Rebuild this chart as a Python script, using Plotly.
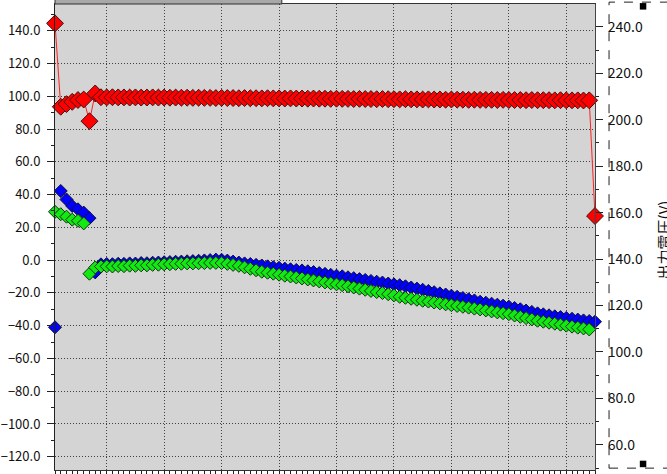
import plotly.graph_objects as go

# sample index along the x axis
x_idx = list(range(1, 96))

red_vals = [
    144.5, 93.6, 95.2, 96.6, 97.7, 98.0, 84.8, 101.7,
    99.4, 99.3, 99.4, 99.3, 99.3, 99.2, 99.3, 99.2, 99.2, 99.3, 99.2, 99.2,
    99.1, 99.2, 99.1, 99.1, 99.0, 99.1, 99.0, 99.0, 98.9, 99.0,
    98.9, 98.9, 98.8, 98.9, 98.8, 98.8, 98.7, 98.8, 98.7, 98.7,
    98.6, 98.7, 98.6, 98.6, 98.5, 98.6, 98.5, 98.5, 98.4, 98.5,
    98.4, 98.4, 98.3, 98.4, 98.3, 98.3, 98.2, 98.3, 98.2, 98.2,
    98.1, 98.2, 98.1, 98.1, 98.0, 98.1, 98.0, 98.0, 97.9, 98.0,
    97.9, 97.9, 97.8, 97.9, 97.8, 97.8, 97.8, 97.7, 97.8, 97.7,
    97.7, 97.7, 97.6, 97.7, 97.6, 97.6, 97.6, 97.5, 97.6, 97.5,
    97.5, 97.5, 97.4, 97.5, 26.9,
]

blue_vals = [
    -41.0, 42.2, 37.0, 33.0, 31.0, 29.0, 25.6, -7.5,
    -2.6, -2.4, -2.5, -2.2, -2.3, -2.0, -2.1, -1.8, -1.9, -1.6, -1.5, -1.3,
    -1.2, -1.0, -0.9, -0.7, -0.6, -0.4, -0.2, 0.0, 0.3, 0.2,
    -0.3, -0.9, -1.5, -2.0, -2.4, -2.9, -3.3, -3.8, -4.3, -4.7,
    -5.2, -5.6, -6.0, -6.3, -6.8, -7.3, -7.9, -8.4, -9.0, -9.5,
    -9.9, -10.5, -11.0, -11.6, -12.1, -12.7, -13.2, -13.7, -14.3, -14.8,
    -15.3, -16.0, -16.7, -17.4, -18.1, -18.8, -19.6, -20.3, -21.0, -21.7,
    -22.4, -23.1, -23.9, -24.6, -25.4, -26.0, -26.6, -27.2, -27.8, -28.4,
    -29.2, -30.0, -30.8, -31.6, -32.5, -33.1, -33.7, -34.3, -34.8, -35.3,
    -35.8, -36.3, -36.8, -37.2, -37.6,
]

green_vals = [
    29.5, 28.0, 26.5, 24.7, 24.0, 22.4, -8.3, -4.5,
    -3.9, -3.8, -3.9, -3.6, -3.7, -3.4, -3.5, -3.2, -3.2, -2.9, -2.8, -2.6,
    -2.5, -2.3, -2.2, -2.0, -2.0, -1.9, -1.8, -1.7, -1.7, -1.8,
    -2.3, -2.9, -3.5, -4.4, -5.3, -6.2, -7.1, -7.7, -8.3, -8.9,
    -9.5, -10.0, -10.6, -11.2, -11.8, -12.4, -13.0, -13.6, -14.2, -14.8,
    -15.3, -16.0, -16.7, -17.4, -18.1, -18.8, -19.5, -20.1, -20.8, -21.5,
    -22.4, -23.0, -23.6, -24.2, -24.8, -25.3, -25.9, -26.4, -27.0, -27.5,
    -28.0, -28.5, -29.0, -29.6, -30.1, -30.7, -31.3, -31.9, -32.4, -33.0,
    -33.8, -34.6, -35.4, -36.2, -37.0, -37.6, -38.2, -38.8, -39.4, -40.0,
    -40.6, -41.2, -41.7, -42.3,
]

right_title = "出力電圧(V)"

FONT = "Noto Sans CJK JP"
GRID = "#404040"
DOTS = "1px,2px"

fig = go.Figure()

fig.add_trace(go.Scatter(
    x=x_idx, y=blue_vals, mode="markers", cliponaxis=False,
    marker=dict(symbol="diamond", size=10, color="#0000ff",
                line=dict(color="#101030", width=1)),
))
fig.add_trace(go.Scatter(
    x=x_idx[:len(green_vals)], y=green_vals, mode="markers", cliponaxis=False,
    marker=dict(symbol="diamond", size=10, color="#12e812",
                line=dict(color="#103010", width=1)),
))
fig.add_trace(go.Scatter(
    x=x_idx, y=red_vals, mode="lines+markers", cliponaxis=False,
    line=dict(color="#ff2020", width=1),
    marker=dict(symbol="diamond", size=13, color="#ff0000",
                line=dict(color="#401010", width=1)),
))
# empty trace so the right axis is drawn
fig.add_trace(go.Scatter(x=[], y=[], yaxis="y2", hoverinfo="skip"))

# dashed box around the right axis labels, with selection handles
fig.add_shape(type="rect", xref="paper", yref="paper",
              x0=1.026, x1=1.25, y0=0.004, y1=1.004,
              line=dict(color="#202020", width=1, dash="dash"))
for yy in (0.995, 0.013):
    fig.add_shape(type="rect", xref="paper", yref="paper",
                  x0=1.083, x1=1.095, y0=yy - 0.007, y1=yy + 0.007,
                  fillcolor="black", line=dict(width=0))
# grey title strip cut off at the top
fig.add_shape(type="rect", xref="paper", yref="paper",
              x0=0.0, x1=0.42, y0=1.0, y1=1.03,
              fillcolor="#a8a8a8", line=dict(color="#303030", width=1))

fig.add_annotation(text=right_title, textangle=-90, showarrow=False,
                   xref="paper", yref="paper", x=1.127, y=0.494,
                   xanchor="center", yanchor="middle",
                   font=dict(family=FONT, size=15, color="#111"))

fig.update_layout(
    width=667, height=474,
    margin=dict(l=55, r=72, t=4, b=4, autoexpand=False),
    paper_bgcolor="white",
    plot_bgcolor="#d4d4d4",
    showlegend=False,
    font=dict(family=FONT, size=13, color="#111"),
    xaxis=dict(
        range=[1, 95], tick0=0, dtick=10, automargin=False,
        showticklabels=False, ticks="outside", ticklen=5, tickcolor="#222",
        showline=True, linecolor="#333", linewidth=1, mirror=True,
        showgrid=True, gridcolor=GRID, griddash=DOTS, gridwidth=1,
        zeroline=False,
        minor=dict(dtick=1, ticks="outside", ticklen=3, tickcolor="#222", showgrid=False),
    ),
    yaxis=dict(
        range=[-128.1, 156.3], tick0=0, dtick=20, tickformat=".1f", automargin=False,
        ticks="outside", ticklen=7, tickcolor="#222", ticklabelstandoff=4,
        showline=True, linecolor="#222", linewidth=1,
        showgrid=True, gridcolor=GRID, griddash=DOTS, gridwidth=1,
        zeroline=False,
        minor=dict(dtick=10, ticks="outside", ticklen=3, tickcolor="#222", showgrid=False),
    ),
    yaxis2=dict(
        overlaying="y", side="right", automargin=False,
        range=[49.2, 249.8], tick0=0, dtick=20, tickformat=".1f",
        ticks="outside", ticklen=7, tickcolor="#222", ticklabelstandoff=2,
        showline=True, linecolor="#444", linewidth=1,
        showgrid=False, zeroline=False,
        tickfont=dict(size=14),
        minor=dict(dtick=10, ticks="outside", ticklen=3, tickcolor="#222"),
    ),
)

# the page body has a default 8px margin; drop it so the chart sits at 0,0
fig.write_html("out.html", config={"displayModeBar": False},
               post_script="document.body.style.margin='0';")
